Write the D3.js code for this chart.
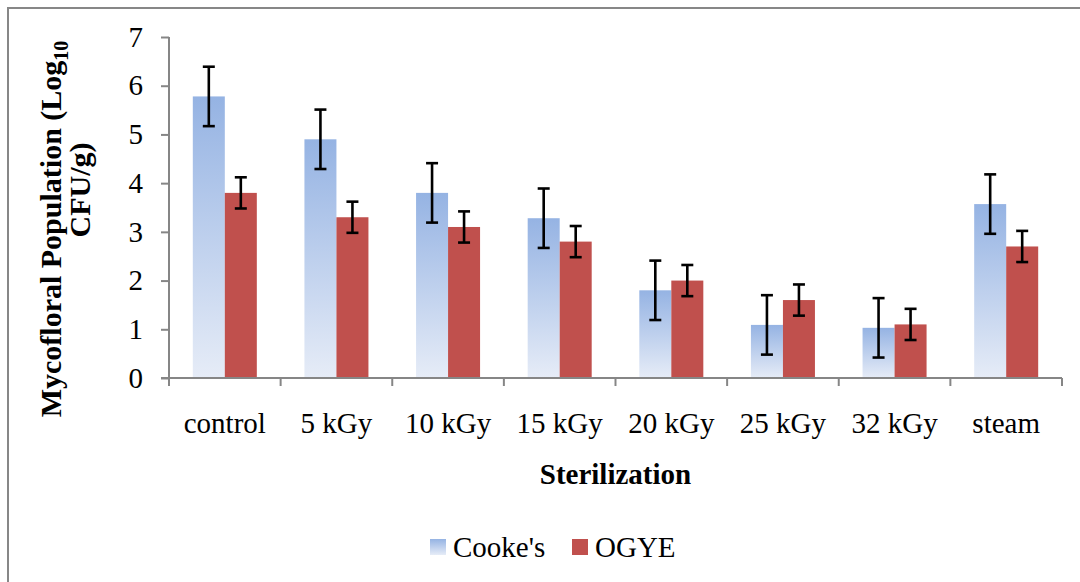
<!DOCTYPE html>
<html>
<head>
<meta charset="utf-8">
<script src="https://cdn.jsdelivr.net/npm/d3@7/dist/d3.min.js"></script>
<style>
  html, body { margin: 0; padding: 0; background: #fff; }
  svg { display: block; font-family: "Liberation Serif", "Times New Roman", serif; }
</style>
</head>
<body>
<svg id="chart" width="1080" height="582"></svg>
<script>
const categories = ["control", "5 kGy", "10 kGy", "15 kGy", "20 kGy", "25 kGy", "32 kGy", "steam"];
const seriesNames = ["Cooke's", "OGYE"];
const cookesValues = [5.78, 4.9, 3.8, 3.28, 1.8, 1.09, 1.03, 3.57];
const cookesErrors = [0.61, 0.61, 0.61, 0.61, 0.61, 0.61, 0.61, 0.61];
const ogyeValues = [3.8, 3.3, 3.1, 2.8, 2.0, 1.6, 1.1, 2.7];
const ogyeErrors = [0.32, 0.32, 0.32, 0.32, 0.32, 0.32, 0.32, 0.32];
const yTicks = [0, 1, 2, 3, 4, 5, 6, 7];

const svg = d3.select("#chart");
const plot = { left: 169, right: 1062, top: 37, bottom: 378 };

// outer border
svg.append("rect").attr("x", 8).attr("y", 8).attr("width", 1200).attr("height", 800)
  .attr("fill", "none").attr("stroke", "#878787").attr("stroke-width", 2);

const defs = svg.append("defs");
const grad = defs.append("linearGradient").attr("id", "blueGrad")
  .attr("x1", 0).attr("y1", 0).attr("x2", 0).attr("y2", 1);
grad.append("stop").attr("offset", "0%").attr("stop-color", "#95b3e3");
grad.append("stop").attr("offset", "100%").attr("stop-color", "#e6ecf7");

const x0 = d3.scaleBand().domain(categories).range([plot.left, plot.right]).paddingInner(0).paddingOuter(0);
const x1 = d3.scaleBand().domain(seriesNames).range([0, x0.bandwidth()]).paddingInner(0).paddingOuter(0.744);
const y = d3.scaleLinear().domain([0, 7]).range([plot.bottom, plot.top]);

const fills = { "Cooke's": "url(#blueGrad)", "OGYE": "#c0504d" };
const data = categories.map((c, i) => ({
  cat: c,
  vals: [
    { s: "Cooke's", v: cookesValues[i], e: cookesErrors[i] },
    { s: "OGYE", v: ogyeValues[i], e: ogyeErrors[i] }
  ]
}));

// bars
const groups = svg.append("g").selectAll("g").data(data).join("g")
  .attr("transform", d => `translate(${x0(d.cat)},0)`);
groups.selectAll("rect").data(d => d.vals).join("rect")
  .attr("x", d => x1(d.s))
  .attr("y", d => y(d.v))
  .attr("width", x1.bandwidth())
  .attr("height", d => y(0) - y(d.v))
  .attr("fill", d => fills[d.s]);

// error bars
const capW = 12;
const eb = groups.selectAll("g.eb").data(d => d.vals).join("g").attr("class", "eb")
  .attr("stroke", "#000").attr("stroke-width", 2.6);
const cx = d => x1(d.s) + x1.bandwidth() / 2;
eb.append("line")
  .attr("x1", cx).attr("x2", cx)
  .attr("y1", d => y(d.v + d.e)).attr("y2", d => y(d.v - d.e));
eb.append("line")
  .attr("x1", d => cx(d) - capW / 2).attr("x2", d => cx(d) + capW / 2)
  .attr("y1", d => y(d.v + d.e)).attr("y2", d => y(d.v + d.e));
eb.append("line")
  .attr("x1", d => cx(d) - capW / 2).attr("x2", d => cx(d) + capW / 2)
  .attr("y1", d => y(d.v - d.e)).attr("y2", d => y(d.v - d.e));

// y axis
const yAxis = svg.append("g").attr("transform", `translate(${plot.left},0)`)
  .call(d3.axisLeft(y).tickValues(yTicks).tickFormat(d3.format("d")).tickSize(8).tickPadding(18));
yAxis.select(".domain").attr("stroke", "#868686").attr("stroke-width", 2)
  .attr("d", `M0,${plot.top}V${plot.bottom}`);
yAxis.selectAll(".tick line").attr("stroke", "#868686").attr("stroke-width", 2);
yAxis.selectAll(".tick text").attr("font-size", 29).attr("fill", "#000")
  .attr("font-family", "Liberation Serif, Times New Roman, serif");

// x axis
const xAxis = svg.append("g").attr("transform", `translate(0,${plot.bottom})`)
  .call(d3.axisBottom(x0).tickSize(0).tickPadding(34));
xAxis.select(".domain").attr("stroke", "#868686").attr("stroke-width", 2)
  .attr("d", `M${plot.left - 8},0H${plot.right}`);
xAxis.selectAll(".tick text").attr("font-size", 29).attr("fill", "#000")
  .attr("font-family", "Liberation Serif, Times New Roman, serif");
const bounds = categories.map(c => x0(c)).concat([x0(categories[categories.length - 1]) + x0.bandwidth()]);
xAxis.selectAll("line.bt").data(bounds).join("line").attr("class", "bt")
  .attr("x1", d => d).attr("x2", d => d).attr("y1", 0).attr("y2", 8)
  .attr("stroke", "#868686").attr("stroke-width", 2);

// x title
svg.append("text").attr("x", (plot.left + plot.right) / 2).attr("y", 484)
  .attr("text-anchor", "middle").attr("font-size", 29).attr("font-weight", "bold")
  .text("Sterilization");

// y title
const yt1 = svg.append("text").attr("transform", `translate(61,229) rotate(-90)`)
  .attr("text-anchor", "middle").attr("font-size", 30).attr("font-weight", "bold");
yt1.append("tspan").text("Mycofloral Population (Log");
yt1.append("tspan").attr("font-size", 20).attr("dy", 7).text("10");
svg.append("text").attr("transform", `translate(90,190) rotate(-90)`)
  .attr("text-anchor", "middle").attr("font-size", 30).attr("font-weight", "bold")
  .text("CFU/g)");

// legend
const legend = svg.append("g");
const legItems = [{ s: "Cooke's", x: 430 }, { s: "OGYE", x: 572 }];
legend.selectAll("rect").data(legItems).join("rect")
  .attr("x", d => d.x).attr("y", 539).attr("width", 16).attr("height", 16)
  .attr("fill", d => fills[d.s]);
legend.selectAll("text").data(legItems).join("text")
  .attr("x", d => d.x + 23).attr("y", 557).attr("font-size", 29)
  .text(d => d.s);
</script>
</body>
</html>
